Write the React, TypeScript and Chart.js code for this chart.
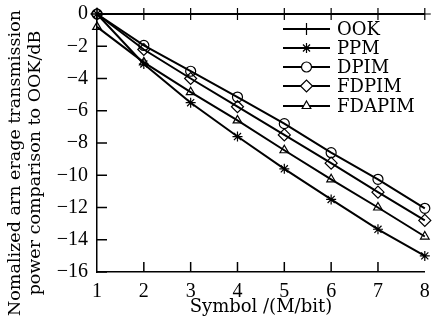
import React, { useEffect, useRef } from "react";
import { Chart, registerables, PointElement } from "chart.js";
Chart.register(...registerables);

const symbols = [1, 2, 3, 4, 5, 6, 7, 8];
const seriesNames = ["OOK", "PPM", "DPIM", "FDPIM", "FDAPIM"];
const ook = [0, 0, 0, 0, 0, 0, 0, 0];
const ppm = [0, -3.1, -5.5, -7.6, -9.6, -11.5, -13.35, -15.0];
const dpim = [0, -1.95, -3.55, -5.15, -6.8, -8.6, -10.25, -12.05];
const fdpim = [0, -2.2, -4.0, -5.75, -7.5, -9.25, -11.05, -12.8];
const fdapim = [-0.8, -3.0, -4.85, -6.6, -8.45, -10.25, -12.0, -13.8];
const yTicks = [0, -2, -4, -6, -8, -10, -12, -14, -16];
const xTicks = [1, 2, 3, 4, 5, 6, 7, 8];
const yTitleLines = ["Nomalized arn erage transmission", "power comparison to OOK/dB"];
const xTitle = "Symbol /(M/bit)";

const FONT = "'DejaVu Serif', serif";
const TICKFONT = "'Liberation Serif', serif";
const styles = ["cross", "star", "circle", "rectRot", "triangle"];
const radii = [6, 5, 5, 6, 5];

const inwardTicks = {
  id: "inwardTicks",
  afterDraw(chart: any) {
    const { ctx, chartArea, scales } = chart;
    ctx.save();
    ctx.strokeStyle = "#000";
    ctx.lineWidth = 1.5;
    yTicks.forEach((v) => {
      const y = scales.y.getPixelForValue(v);
      ctx.beginPath();
      ctx.moveTo(chartArea.left, y);
      ctx.lineTo(chartArea.left + 10, y);
      ctx.stroke();
    });
    xTicks.slice(1, -1).forEach((v) => {
      const x = scales.x.getPixelForValue(v);
      ctx.beginPath();
      ctx.moveTo(x, chartArea.bottom);
      ctx.lineTo(x, chartArea.bottom - 10);
      ctx.stroke();
    });
    // y-axis title, two rotated lines
    ctx.fillStyle = "#000";
    ctx.font = `17.5px ${FONT}`;
    ctx.textAlign = "center";
    ctx.textBaseline = "middle";
    const xs = [15, 35];
    yTitleLines.forEach((t, i) => {
      ctx.save();
      ctx.translate(xs[i], 163);
      ctx.rotate(-Math.PI / 2);
      ctx.fillText(t, 0, 0);
      ctx.restore();
    });
    ctx.restore();
  },
};

const customLegend = {
  id: "customLegend",
  afterDraw(chart: any) {
    const { ctx } = chart;
    const x0 = 283, x1 = 330, tx = 337;
    const ys = [29, 48, 67, 86, 106];
    ctx.save();
    chart.data.datasets.forEach((ds: any, i: number) => {
      const y = ys[i];
      ctx.strokeStyle = "#000";
      ctx.lineWidth = 2;
      ctx.beginPath();
      ctx.moveTo(x0, y);
      ctx.lineTo(x1, y);
      ctx.stroke();
      const el: any = new (PointElement as any)({});
      el.x = (x0 + x1) / 2;
      el.y = y;
      el.options = {
        pointStyle: ds.pointStyle,
        radius: ds.pointRadius,
        rotation: 0,
        borderWidth: 1.2,
        backgroundColor: "#fff",
        borderColor: "#000",
        hitRadius: 1,
      };
      el.draw(ctx);
      ctx.fillStyle = "#000";
      ctx.font = `18px ${FONT}`;
      ctx.textBaseline = "middle";
      ctx.textAlign = "left";
      ctx.fillText(ds.label, tx, y + 1);
    });
    ctx.restore();
  },
};

export default function App() {
  const ref = useRef<HTMLCanvasElement>(null);
  useEffect(() => {
    document.body.style.margin = "0";
    const data = [ook, ppm, dpim, fdpim, fdapim];
    const chart = new Chart(ref.current!, {
      type: "line",
      data: {
        datasets: data.map((d, i) => ({
          label: seriesNames[i],
          data: d.map((v, j) => ({ x: symbols[j], y: v })),
          borderColor: "#000",
          borderWidth: 2,
          pointStyle: styles[i] as any,
          pointRadius: radii[i],
          pointBorderWidth: 1.2,
          pointBackgroundColor: "transparent",
          pointBorderColor: "#000",
          tension: 0,
          clip: false as any,
        })),
      },
      options: {
        animation: false,
        responsive: false,
        layout: { padding: { top: 14, right: 6, left: 0, bottom: 0 } },
        plugins: { legend: { display: false }, tooltip: { enabled: false } },
        scales: {
          x: {
            type: "linear",
            min: 1,
            max: 8,
            afterBuildTicks: (s: any) => { s.ticks = xTicks.map((v) => ({ value: v })); },
            afterFit: (s: any) => { s.height = 58; s.paddingLeft = 0; s.paddingRight = 0; },
            grid: { display: false, drawTicks: false },
            border: { display: true, color: "#000", width: 1.5 },
            ticks: { color: "#000", font: { family: TICKFONT, size: 20 }, padding: 8 },
            title: { display: true, text: xTitle, color: "#000", font: { family: FONT, size: 18 }, padding: { top: 0, bottom: 12 } },
          },
          y: {
            type: "linear",
            min: -16,
            max: 0,
            afterBuildTicks: (s: any) => { s.ticks = yTicks.map((v) => ({ value: v })); },
            afterFit: (s: any) => { s.width = 97; s.paddingTop = 0; s.paddingBottom = 0; },
            grid: { display: false, drawTicks: false },
            border: { display: true, color: "#000", width: 1.5 },
            ticks: {
              color: "#000",
              font: { family: TICKFONT, size: 20 },
              padding: 9,
              callback: (v: any) => (v < 0 ? "\u2212" + Math.abs(v) : String(v)),
            },
            title: { display: false },
          },
        },
      },
      plugins: [inwardTicks, customLegend],
    });
    return () => chart.destroy();
  }, []);
  return (
    <div style={{ width: 432, height: 330 }}>
      <canvas ref={ref} width={432} height={330} />
    </div>
  );
}
